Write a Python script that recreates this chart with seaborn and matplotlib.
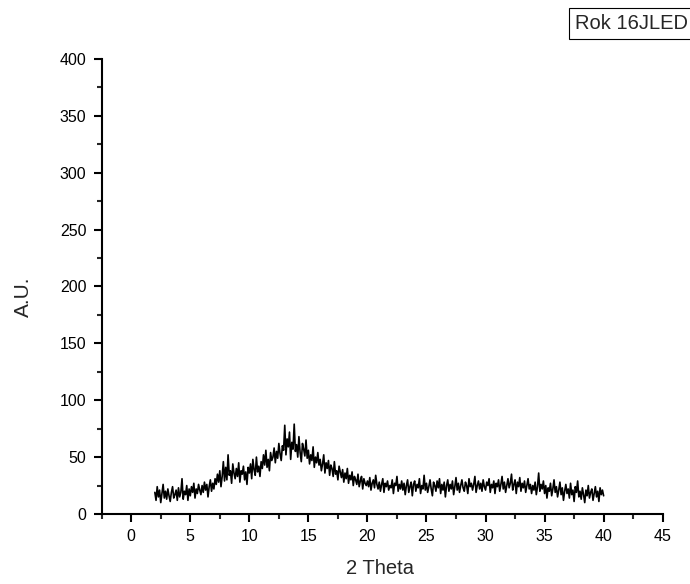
import matplotlib.pyplot as plt
import numpy as np
import pandas as pd
import seaborn as sns
from matplotlib.ticker import MultipleLocator

# 2-theta scan, 2.0 .. 40.0 in steps of 0.1 (one row per degree)
two_theta = np.round(np.arange(2.0, 40.01, 0.1), 1)
intensity = [
    19, 12, 24, 15, 21, 10, 18, 26, 14, 20,
    13, 22, 16, 11, 19, 24, 14, 17, 21, 12,
    23, 15, 19, 31, 13, 20, 17, 25, 12, 22,
    16, 24, 19, 27, 14, 22, 18, 26, 21, 17,
    25, 19, 28, 21, 26, 15, 24, 30, 20, 27,
    22, 31, 26, 35, 28, 38, 24, 33, 46, 29,
    41, 30, 52, 34, 38, 27, 44, 36, 31, 40,
    33, 45, 28, 38, 35, 42, 30, 37, 26, 41,
    36, 44, 31, 48, 39, 34, 50, 37, 42, 33,
    46, 40, 52, 43, 56, 41, 48, 38, 54, 47,
    50, 58, 45, 55, 49, 62, 53, 47, 60, 56,
    78, 52, 66, 59, 72, 48, 63, 57, 79, 55,
    61, 50, 68, 54, 46, 62, 57, 51, 65, 49,
    56, 44, 52, 47, 59, 41, 50, 45, 54, 43,
    48, 38, 44, 52, 36, 45, 40, 47, 34, 43,
    40, 33, 46, 35, 38, 30, 42, 37, 32, 39,
    28, 36, 31, 40, 27, 34, 30, 37, 25, 33,
    30, 26, 35, 24, 29, 33, 22, 31, 27, 25,
    29, 24, 32, 21, 27, 30, 23, 34, 26, 22,
    28, 20, 26, 31, 19, 27, 24, 29, 21, 25,
    23, 30, 18, 27, 25, 33, 20, 26, 22, 29,
    21, 27, 17, 25, 30, 19, 24, 28, 16, 26,
    29, 20, 26, 23, 31, 18, 25, 22, 34, 21,
    27, 19, 24, 30, 22, 16, 28, 25, 20, 29,
    23, 31, 18, 26, 21, 28, 15, 25, 30, 20,
    26, 22, 29, 17, 24, 32, 21, 27, 19, 25,
    30, 23, 20, 28, 25, 18, 31, 24, 27, 21,
    26, 33, 19, 25, 29, 22, 27, 20, 30, 24,
    21, 28, 25, 31, 19, 26, 23, 29, 18, 27,
    24, 30, 20, 26, 33, 22, 28, 19, 25, 31,
    23, 27, 35, 21, 26, 30, 18, 28, 24, 32,
    20, 27, 23, 29, 19, 25, 31, 22, 26, 18,
    25, 21, 28, 17, 24, 36, 20, 26, 22, 29,
    18, 25, 14, 23, 20, 27, 16, 22, 30, 19,
    24, 15, 21, 28, 17, 23, 12, 20, 26, 18,
    22, 14, 27, 17, 21, 11, 24, 19, 29, 15,
    20, 13, 23, 17, 10, 21, 16, 25, 14, 19,
    22, 12, 18, 24, 15, 20, 11, 23, 17, 21,
    16,
]
sample_label = "Rok 16JLED"

df = pd.DataFrame({"two_theta": two_theta, "intensity": intensity})

sns.set_theme(style="ticks")
plt.rcParams["font.family"] = ["Liberation Sans", "DejaVu Sans"]

fig = plt.figure(figsize=(6.9, 5.84), dpi=100)
ax = fig.add_axes([0.1474, 0.1199, 0.8130, 0.7791])

sns.lineplot(data=df, x="two_theta", y="intensity", ax=ax,
             color="black", linewidth=1.2, estimator=None, sort=False)

ax.set_xlim(-2.5, 45)
ax.set_ylim(0, 400)
ax.xaxis.set_major_locator(MultipleLocator(5))
ax.xaxis.set_minor_locator(MultipleLocator(2.5))
ax.yaxis.set_major_locator(MultipleLocator(50))
ax.yaxis.set_minor_locator(MultipleLocator(25))
ax.tick_params(which="major", direction="out", length=6, width=1.5,
               labelsize=11.5, colors="black", pad=5)
ax.tick_params(which="minor", direction="out", length=3.5, width=1.5)
for side in ["left", "bottom"]:
    ax.spines[side].set_linewidth(1.5)
    ax.spines[side].set_color("black")
sns.despine(ax=ax)

ax.set_xlabel("2 Theta", fontsize=14.5)
ax.set_ylabel("A.U.", fontsize=15)
ax.xaxis.set_label_coords(0.496, -0.119)
ax.xaxis.label.set_va("center")
ax.yaxis.set_label_coords(-0.139, 0.478)
ax.yaxis.label.set_va("center")

fig.text(0.9965, 0.960, sample_label, ha="right", va="center", fontsize=14.5,
         bbox=dict(boxstyle="square,pad=0.3", facecolor="white",
                   edgecolor="black", linewidth=0.8))

fig.savefig("out.png", dpi=100)
